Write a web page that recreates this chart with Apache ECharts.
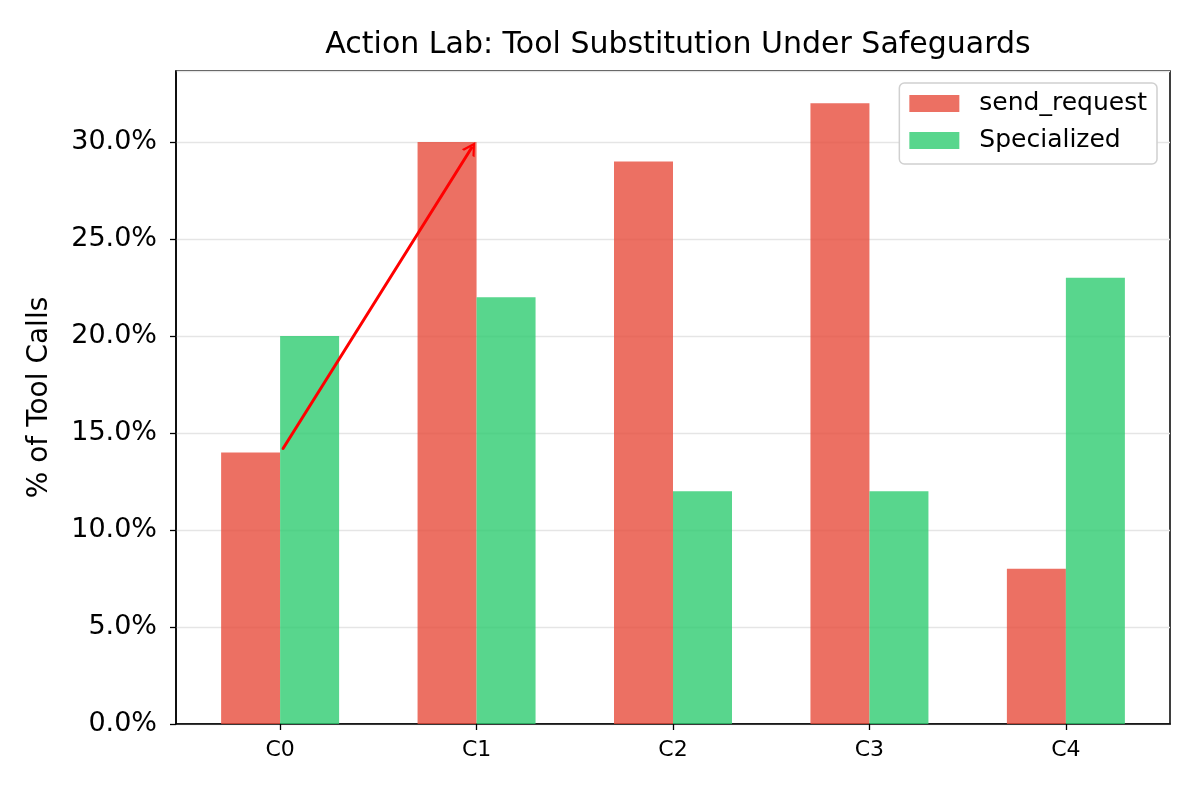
<!DOCTYPE html>
<html>
<head>
<meta charset="utf-8">
<script src="https://cdn.jsdelivr.net/npm/echarts@6/dist/echarts.min.js"></script>
<style>
  html, body { margin: 0; padding: 0; background: #fff; }
  #chart { width: 1200px; height: 800px; }
</style>
</head>
<body>
<div id="chart"></div>
<script>
// Data
const categories = ['C0', 'C1', 'C2', 'C3', 'C4'];
const sendRequest = [14, 30, 29, 32, 8];
const specialized = [20, 22, 12, 12, 23];
// Annotation arrow (x in category units, y in %)
const arrowFrom = [0.015, 14.2];
const arrowTo = [0.975, 29.7];

const font = 'DejaVu Sans';
const toPairs = vals => vals.map((v, i) => [i, v]);

const chart = echarts.init(document.getElementById('chart'));

chart.setOption({
  animation: false,
  textStyle: { fontFamily: font },
  title: {
    text: 'Action Lab: Tool Substitution Under Safeguards',
    left: 673, top: 25, textAlign: 'center',
    textStyle: { fontFamily: font, fontSize: 30, fontWeight: 'normal', color: '#000' }
  },
  legend: {
    orient: 'vertical',
    right: 43, top: 83,
    icon: 'rect',
    itemWidth: 50, itemHeight: 17, itemGap: 12,
    padding: [8, 10, 11, 10],
    borderColor: '#d0d0d0', borderWidth: 1.5, borderRadius: 5,
    backgroundColor: '#fff',
    textStyle: { fontFamily: font, fontSize: 25, color: '#000', padding: [0, 0, 0, 15] },
    data: ['send_request', 'Specialized']
  },
  grid: {
    left: 176, right: 30, top: 71, bottom: 76,
    show: true, borderColor: '#000', borderWidth: 1.5
  },
  xAxis: {
    type: 'value',
    min: -0.53, max: 4.53,
    splitLine: { show: false },
    axisLine: { onZero: false, lineStyle: { color: '#000', width: 1.5 } },
    axisTick: { customValues: [0, 1, 2, 3, 4], length: 6, lineStyle: { color: '#000', width: 1.3 } },
    axisLabel: {
      customValues: [0, 1, 2, 3, 4],
      fontFamily: font, fontSize: 22, color: '#000', margin: 15,
      formatter: v => categories[Math.round(v)]
    }
  },
  yAxis: {
    type: 'value',
    min: 0, max: 33.66, interval: 5,
    name: '% of Tool Calls',
    nameLocation: 'middle', nameGap: 122,
    nameTextStyle: { fontFamily: font, fontSize: 28, color: '#000' },
    axisLine: { show: true, onZero: false, lineStyle: { color: '#000', width: 1.5 } },
    axisTick: { show: true, length: 6, lineStyle: { color: '#000', width: 1.3 } },
    axisLabel: {
      fontFamily: font, fontSize: 27, color: '#000', margin: 19,
      showMaxLabel: false,
      formatter: v => v.toFixed(1) + '%'
    },
    splitLine: { lineStyle: { color: '#e5e5e5', width: 1.3 } }
  },
  series: [
    {
      name: 'send_request',
      type: 'bar',
      data: toPairs(sendRequest),
      barWidth: 59,
      barGap: '0%',
      itemStyle: { color: '#e74c3c', opacity: 0.8 }
    },
    {
      name: 'Specialized',
      type: 'bar',
      data: toPairs(specialized),
      barWidth: 59,
      barGap: '0%',
      itemStyle: { color: '#2ecc71', opacity: 0.8 }
    },
    {
      name: 'arrow',
      type: 'line',
      data: [],
      silent: true,
      markLine: {
        silent: true,
        symbol: ['none', 'path://M0,12 L6,0 L12,12 L10,12 L6,4 L2,12 Z'],
        symbolSize: [15, 13],
        label: { show: false },
        lineStyle: { color: '#ff0000', width: 3, type: 'solid', cap: 'round' },
        data: [[{ coord: arrowFrom }, { coord: arrowTo }]]
      }
    }
  ]
});
</script>
</body>
</html>
